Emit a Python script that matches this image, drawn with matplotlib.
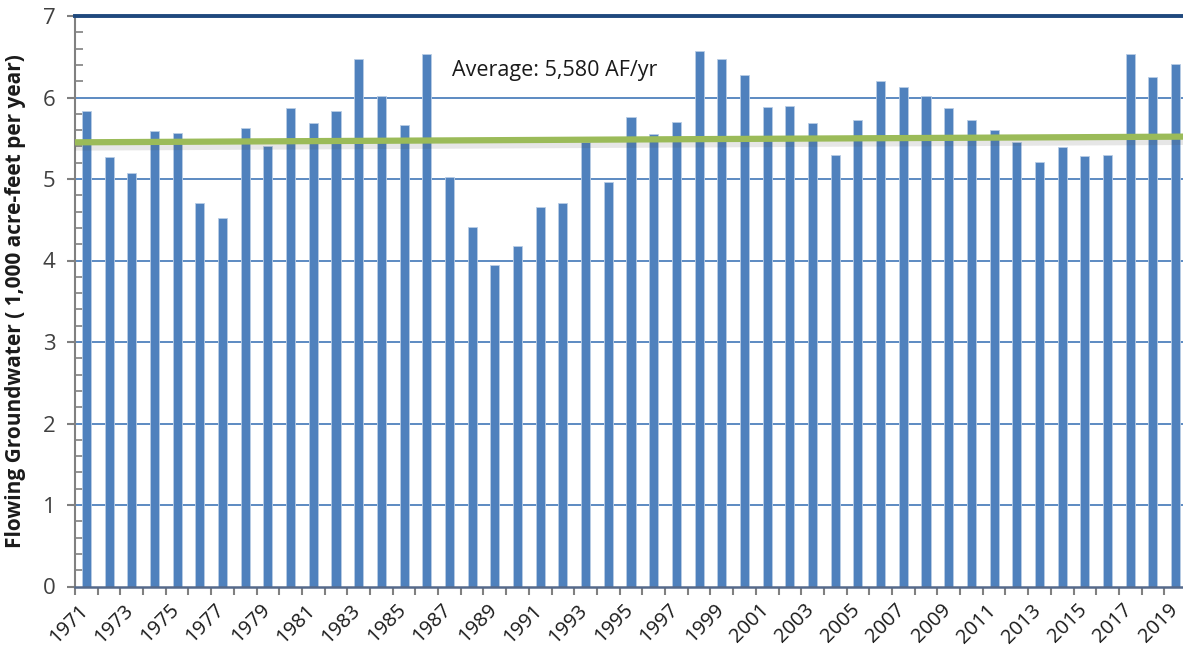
import matplotlib.pyplot as plt
import matplotlib.patheffects as pe
import matplotlib.transforms as mtrans
import numpy as np

plt.rcParams['font.family'] = ['Open Sans', 'DejaVu Sans']

# Flowing groundwater, 1,000 acre-feet per year
years = list(range(1971, 2020))
flow = [
    5.84, 5.27, 5.07, 5.59, 5.56, 4.71, 4.52, 5.63, 5.41, 5.87,
    5.69, 5.83, 6.47, 6.02, 5.66, 6.53, 5.02, 4.41, 3.94, 4.18,
    4.66, 4.71, 5.45, 4.96, 5.76, 5.55, 5.70, 6.57, 6.47, 6.28,
    5.88, 5.90, 5.69, 5.29, 5.73, 6.20, 6.13, 6.02, 5.87, 5.73,
    5.60, 5.45, 5.21, 5.39, 5.28, 5.30, 6.53, 6.25, 6.41,
]
# green line drawn across the chart (start / end value)
trend = [5.45, 5.52]
avg_label = 'Average: 5,580 AF/yr'

fig = plt.figure(figsize=(11.83, 6.59), dpi=100)
ax = fig.add_axes([75 / 1183, 1 - 586.5 / 659, 1112 / 1183, 570.5 / 659])

x = np.arange(len(years))
ax.bar(x, flow, width=0.4, color='#4F81BD', edgecolor='#B9CDE5',
       linewidth=0.6, zorder=3)

ax.set_xlim(-0.5, len(years) - 0.5)
ax.set_ylim(0, 7)

# gridlines
for v in range(1, 7):
    ax.axhline(v, color='#4F81BD', lw=1.3, zorder=1)
ax.axhline(7, color='#1F497D', lw=2.8, zorder=4, clip_on=False)

# trend / average line with a soft shadow
ax.plot([-0.5, len(years) - 0.5], trend, color='#9BBB59', lw=4.5,
        solid_capstyle='butt', zorder=5,
        path_effects=[pe.SimpleLineShadow(offset=(0, -2.5), shadow_color='#444444',
                                          alpha=0.13, linewidth=7),
                      pe.Normal()])
ax.text(16.1, 6.33, avg_label, fontsize=15.5, color='#1a1a1a', va='center',
        ha='left', zorder=6)

# spines
for s in ['top', 'right']:
    ax.spines[s].set_visible(False)
ax.spines['left'].set_color('#808080')
ax.spines['left'].set_linewidth(1.5)
ax.spines['bottom'].set_color('#55698a')
ax.spines['bottom'].set_linewidth(1.8)
ax.spines['bottom'].set_zorder(6)

# y ticks
ax.set_yticks(range(0, 8))
ax.set_yticks(np.arange(0, 7.01, 0.2), minor=True)
ax.tick_params(axis='y', which='major', direction='out', length=6, width=1.5,
               color='#808080', labelsize=16, labelcolor='#404040', pad=8)
ax.tick_params(axis='y', which='minor', direction='in', length=6, width=1.2,
               color='#808080')

# x ticks: marks at category boundaries, labels every other year
ax.set_xticks(x[::2])
ax.set_xticklabels([str(y) for y in years[::2]], rotation=45, ha='right',
                   va='center', rotation_mode='anchor')
ax.set_xticks(np.arange(-0.5, len(years), 1.0), minor=True)
ax.tick_params(axis='x', which='major', length=0, labelsize=14.5, pad=15,
               labelcolor='#1a1a1a')
ax.tick_params(axis='x', which='minor', direction='out', length=6, width=1.5,
               color='#808080')
shift = mtrans.ScaledTranslation(-1 / 100, 0, fig.dpi_scale_trans)
for lbl in ax.get_xticklabels():
    lbl.set_transform(lbl.get_transform() + shift)

ax.set_ylabel('Flowing Groundwater ( 1,000 acre-feet per year)', fontsize=15,
              fontweight='bold', color='#1a1a1a', labelpad=12)

fig.savefig('out.png', dpi=100)
